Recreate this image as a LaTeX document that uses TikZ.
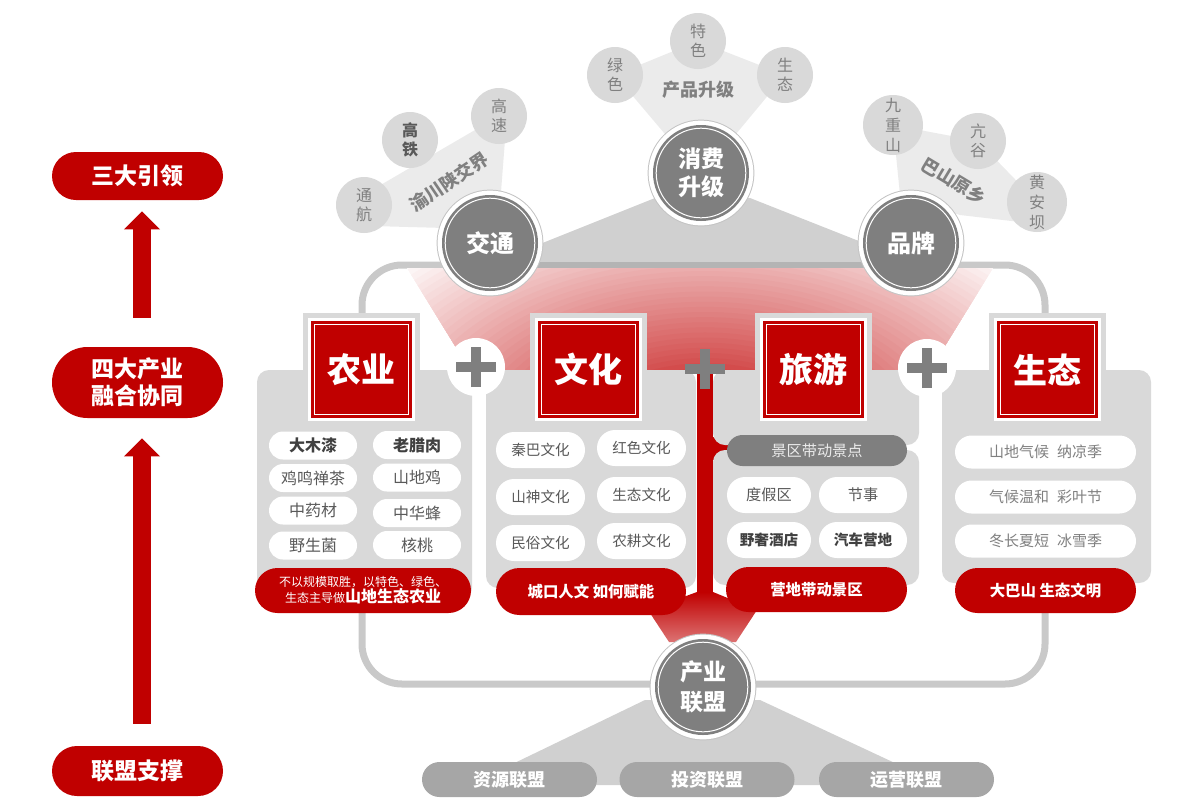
\documentclass[tikz,border=0pt]{standalone}
\usepackage{fontspec}
\setmainfont{Noto Sans CJK SC}
\usetikzlibrary{shapes.misc}
\usetikzlibrary{arrows.meta}
\usetikzlibrary{positioning}

\definecolor{cnred}{HTML}{C00000}
\definecolor{hubgrey}{HTML}{7F7F7F}
\definecolor{panelgrey}{HTML}{D9D9D9}
\definecolor{fangrey}{HTML}{EBEBEB}
\definecolor{linegrey}{HTML}{C9C9C9}
\definecolor{bandgrey}{HTML}{B4B4B4}
\definecolor{trigrey}{HTML}{D0D0D0}
\definecolor{ringgrey}{HTML}{C4C4C4}
\definecolor{textgrey}{HTML}{595959}
\definecolor{darktext}{HTML}{404040}
\definecolor{softtext}{HTML}{808080}
\definecolor{allygrey}{HTML}{A6A6A6}

\newcommand{\fsz}[2]{\fontsize{#1}{#2}\selectfont}

\tikzset{
  hub/.style={circle, minimum size=48pt, inner sep=0pt, fill=hubgrey,
    text=white, align=center, font=\bfseries\fsz{11.5}{14},
    preaction={draw=ringgrey, line width=5.4pt},
    preaction={draw=white, line width=4.4pt},
    path picture={\draw[white, line width=0.5pt]
      (path picture bounding box.center) circle (22.4pt);}},
  bubble/.style={circle, minimum size=28pt, inner sep=0pt, fill=panelgrey,
    text=softtext, align=center, font=\fsz{8}{9.5}},
  grouplabel/.style={text=softtext, font=\bfseries\fsz{9}{10}},
  head/.style={rectangle, minimum width=50.5pt, minimum height=48.5pt,
    inner sep=0pt, fill=cnred, text=white, font=\bfseries\fsz{17}{20},
    preaction={draw=panelgrey, line width=8pt, rounded corners=2pt},
    preaction={draw=white, line width=3pt},
    path picture={\draw[white, line width=0.6pt]
      ([shift={(1.6pt,-1.6pt)}]path picture bounding box.north west) rectangle
      ([shift={(-1.6pt,1.6pt)}]path picture bounding box.south east);}},
  panel/.style={fill=panelgrey, rounded corners=6pt},
  item/.style={rounded rectangle, fill=white, text=textgrey, inner sep=1pt},
  redpill/.style={rounded rectangle, fill=cnred, text=white, inner sep=1pt,
    align=center, font=\bfseries\fsz{7.7}{9}},
  plus/.style={circle, minimum size=29pt, inner sep=0pt,
    path picture={\draw[hubgrey, line width=5.2pt]
      ([xshift=-10pt]path picture bounding box.center) --
      ([xshift=10pt]path picture bounding box.center)
      ([yshift=-10pt]path picture bounding box.center) --
      ([yshift=10pt]path picture bounding box.center);}},
  side/.style={rounded rectangle, fill=cnred, text=white, align=center,
    minimum width=87.5pt, inner sep=1pt, font=\bfseries\fsz{11.5}{13.5}},
  ally/.style={rounded rectangle, fill=allygrey, text=white, inner sep=1pt,
    minimum width=89.5pt, minimum height=17.5pt, font=\bfseries\fsz{9}{10}},
  uparrow/.style={draw=cnred, line width=9pt,
    -{Triangle[width=17.5pt, length=9pt]}}
}

\begin{document}
\begin{tikzpicture}[x=0.5pt, y=-0.5pt]
  \useasboundingbox (0,0) rectangle (1200,810);

  % centres of the circles
  \coordinate (cxiaofei) at (701,173);
  \coordinate (cjiaotong) at (490,243);
  \coordinate (cpinpai) at (911,243);
  \coordinate (clianmeng) at (703,687);
  \coordinate (clvse) at (615,75);
  \coordinate (ctese) at (698,41);
  \coordinate (cshengtai) at (785,75);
  \coordinate (ctonghang) at (364,205);
  \coordinate (cgaotie) at (410,140);
  \coordinate (cgaosu) at (499,116);
  \coordinate (cjiuchong) at (893,125);
  \coordinate (ckanggu) at (978,141);
  \coordinate (chuangan) at (1037,202);

  % frame round the four panels
  \draw[linegrey, line width=3.5pt, rounded corners=20pt] (362,265) rectangle (1045,684);

  % grey wedges
  \fill[trigrey] (655,198) -- (750,198) -- (917,264) -- (490,264) -- cycle;
  \draw[bandgrey, line width=3.5pt] (490,265) -- (917,265);
  \fill[trigrey] (645,700) -- (760,700) -- (942,785) -- (469,785) -- cycle;

  % fans behind the small bubbles
  \fill[fangrey] (clvse) -- (ctese) -- (cshengtai) -- (731,140) -- (670,140) -- cycle;
  \fill[fangrey] (372,190) -- (cgaosu) -- (505,140) -- (500,205) -- (445,228) -- (372,226) -- cycle;
  \fill[fangrey] (cjiuchong) -- (ckanggu) -- (chuangan) -- (1020,222) -- (960,215) -- (900,195) -- cycle;

  % red glow
  \begin{scope}
    \clip (407,268) -- (993,268) -- (930,370) -- (470,370) -- cycle;
    \foreach \k [evaluate=\k as \t using int(2*\k)] in {0,...,49}
      \fill[cnred!\t!white] (705,440) ellipse [x radius={215pt-4.3pt*\k}, y radius={128pt-2.56pt*\k}];
  \end{scope}
  \fill[cnred] (697,368) rectangle (713,600);
  \fill[cnred] (710,437) rectangle (732,460);
  \shade[top color=cnred, bottom color=cnred!55!white]
    (697,592) -- (713,592) -- (757,610) -- (736,642) -- (669,642) -- (648,610) -- cycle;

  % panels
  \fill[panel] (257,370) rectangle (472,600);
  \fill[panel] (486,370) rectangle (696,588);
  \fill[panel] (713,370) rectangle (919,445);
  \fill[panel] (713,450) rectangle (919,585);
  \fill[panel] (942,370) rectangle (1151,583);

  % headers
  \node[head] (hnongye) at (361.5,369.5) {农业};
  \node[head] (hwenhua) at (588.5,369.5) {文化};
  \node[head] (hlvyou) at (813.5,369.5) {旅游};
  \node[head] (hshengtai) at (1047.5,369.5) {生态};

  \node[plus, fill=white] (plusa) at (476,367) {};
  \node[plus] (plusb) at (705,369) {};
  \node[plus, fill=white] (plusc) at (927,368) {};

  % agriculture
  \begin{scope}[every node/.append style={item, minimum width=46pt, minimum height=14pt, font=\fsz{8}{9}}]
    \node[text=darktext, font=\bfseries\fsz{8}{9}] (ny1) at (313,445.5) {大木漆};
    \node[text=darktext, font=\bfseries\fsz{8}{9}] (ny2) at (417,445) {老腊肉};
    \node (ny3) at (313,478) {鸡鸣禅茶};
    \node (ny4) at (417,477.5) {山地鸡};
    \node (ny5) at (313,510.5) {中药材};
    \node (ny6) at (417,513) {中华蜂};
    \node (ny7) at (313,545.5) {野生菌};
    \node (ny8) at (417,545) {核桃};
  \end{scope}
  \node[redpill, minimum width=110pt, minimum height=22.5pt] (rnongye) at (363,590.5)
    {{\mdseries\fsz{6}{8}不以规模取胜，以特色、绿色、}\\[-1pt]{\mdseries\fsz{6}{8}生态主导做}{\fsz{8}{8}山地生态农业}};

  % culture
  \begin{scope}[every node/.append style={item, minimum width=46.5pt, minimum height=18pt, font=\fsz{7.3}{9}}]
    \node (wh1) at (540.5,450) {秦巴文化};
    \node (wh2) at (641.5,448) {红色文化};
    \node (wh3) at (540.5,497) {山神文化};
    \node (wh4) at (641.5,495) {生态文化};
    \node (wh5) at (540.5,543) {民俗文化};
    \node (wh6) at (641.5,541) {农耕文化};
  \end{scope}
  \node[redpill, minimum width=97pt, minimum height=23.5pt] (rwenhua) at (591,591.5) {城口人文 如何赋能};

  % tourism
  \node[item, fill=hubgrey, text=white!92!black, minimum width=92pt, minimum height=15.5pt, font=\fsz{7.6}{9}] (ly0) at (817,450.5) {景区带动景点};
  \begin{scope}[every node/.append style={item, minimum height=18pt, font=\fsz{7.6}{9}}]
    \node[minimum width=44pt] (ly1) at (769,495) {度假区};
    \node[minimum width=46pt] (ly2) at (863,495) {节事};
    \node[minimum width=44pt, text=darktext, font=\bfseries\fsz{7.3}{9}] (ly3) at (769,540) {野奢酒店};
    \node[minimum width=46pt, text=darktext, font=\bfseries\fsz{7.3}{9}] (ly4) at (863,540) {汽车营地};
  \end{scope}
  \node[redpill, minimum width=92.5pt, minimum height=22.5pt] (rlvyou) at (816.5,589.5) {营地带动景区};

  % ecology
  \begin{scope}[every node/.append style={item, minimum width=92.5pt, minimum height=16.5pt, text=softtext, font=\fsz{7.5}{9}}]
    \node (st1) at (1045.5,452) {山地气候\hspace{4pt}纳凉季};
    \node (st2) at (1045.5,497) {气候温和\hspace{4pt}彩叶节};
    \node (st3) at (1045.5,541) {冬长夏短\hspace{4pt}冰雪季};
  \end{scope}
  \node[redpill, minimum width=92.5pt, minimum height=22.5pt] (rshengtai) at (1045.5,590.5) {大巴山 生态文明};

  % small bubbles
  \node[bubble] (blvse) at (clvse) {绿\\色};
  \node[bubble] (btese) at (ctese) {特\\色};
  \node[bubble] (bshengtai) at (cshengtai) {生\\态};
  \node[grouplabel] (lchanpin) at (698,90) {产品升级};

  \node[bubble] (btonghang) at (ctonghang) {通\\航};
  \node[bubble, text=textgrey, font=\bfseries\fsz{8}{9.5}] (bgaotie) at (cgaotie) {高\\铁};
  \node[bubble] (bgaosu) at (cgaosu) {高\\速};
  \node[grouplabel, rotate=34] (lyuchuan) at (449,182) {渝川陕交界};

  \node[bubble, minimum size=30pt, font=\fsz{8}{10}] (bjiuchong) at (cjiuchong) {九\\重\\山};
  \node[bubble] (bkanggu) at (ckanggu) {亢\\谷};
  \node[bubble, minimum size=30pt, font=\fsz{8}{10}] (bhuangan) at (chuangan) {黄\\安\\坝};
  \node[grouplabel, rotate=-31] (lbashan) at (954,181) {巴山原乡};

  % big circles
  \node[hub] (hubxiaofei) at (cxiaofei) {消费\\升级};
  \node[hub, font=\bfseries\fsz{12}{14}] (hubjiaotong) at (cjiaotong) {交通};
  \node[hub, font=\bfseries\fsz{12}{14}] (hubpinpai) at (cpinpai) {品牌};
  \node[hub, font=\bfseries\fsz{11.5}{15}] (hublianmeng) at (clianmeng) {产业\\联盟};

  % alliances
  \node[ally] (aziyuan) at (509.5,779.5) {资源联盟};
  \node[ally] (atouzi) at (707,779.5) {投资联盟};
  \node[ally] (ayunying) at (906.5,779.5) {运营联盟};

  % left column
  \node[side, minimum height=24pt] (stop) at (137.5,176) {三大引领};
  \node[side, minimum height=35.5pt] (smid) at (137.5,382.5) {四大产业\\融合协同};
  \node[side, minimum height=25pt] (sbot) at (137.5,771) {联盟支撑};

  \draw[uparrow, shorten <=14.5pt, shorten >=5.5pt] ([xshift=2.25pt]smid.north) -- ([xshift=2.25pt]stop.south);
  \draw[uparrow, shorten <=11pt, shorten >=10pt] ([xshift=2.25pt]sbot.north) -- ([xshift=2.25pt]smid.south);
\end{tikzpicture}
\end{document}
